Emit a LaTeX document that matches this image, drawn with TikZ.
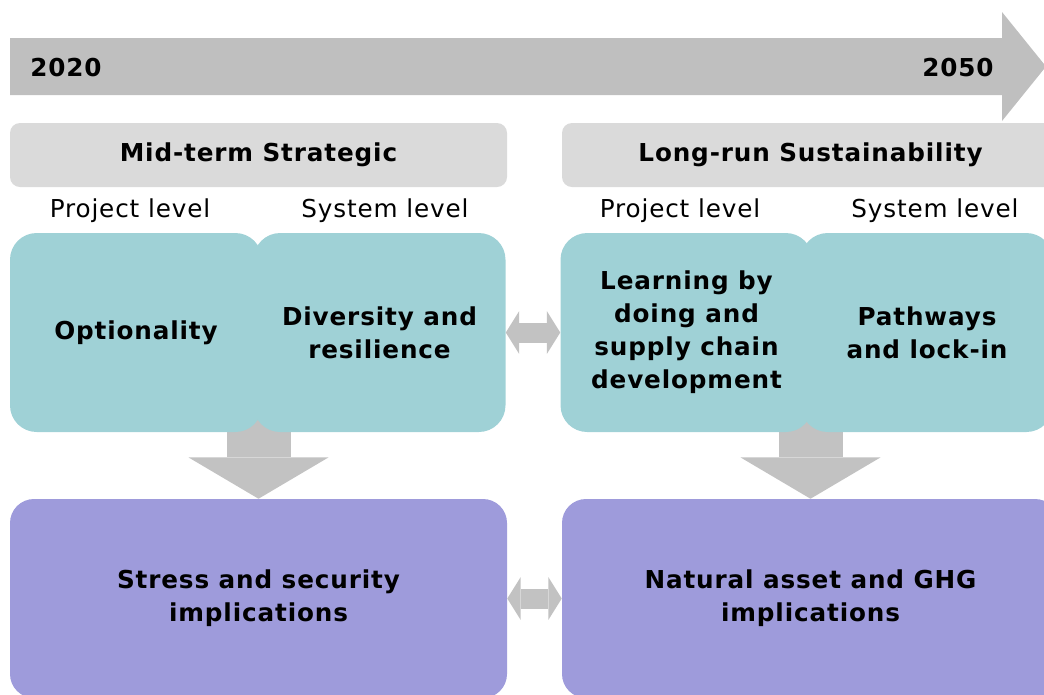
\documentclass[tikz,border=0pt]{standalone}
\usepackage{fontspec}
\setmainfont{DejaVu Sans}[LetterSpace=3.5]
\usetikzlibrary{arrows.meta,positioning,calc,backgrounds}

\definecolor{timegray}{RGB}{191,191,191}
\definecolor{headgray}{RGB}{218,218,218}
\definecolor{arrgray}{RGB}{194,194,194}
\definecolor{tealbox}{RGB}{159,209,214}
\definecolor{violetbox}{RGB}{158,155,219}

\tikzset{
  txt/.style={font=\fontsize{18.5}{24.75}\selectfont, align=center, inner sep=0pt},
  btxt/.style={txt, font=\fontsize{18.5}{24.75}\selectfont\bfseries},
  heading/.style={btxt, fill=headgray, rounded corners=7.5pt,
    minimum width=372.75pt, minimum height=48pt},
  factor/.style={btxt, fill=tealbox, rounded corners=20pt,
    minimum width=189pt, minimum height=149.25pt},
  impact/.style={btxt, fill=violetbox, rounded corners=18pt,
    minimum width=372.75pt, minimum height=149.25pt},
  linkarrow/.style={draw=arrgray, line width=15pt,
    {Triangle[width=32pt,length=10pt,line width=0pt]}-{Triangle[width=32pt,length=10pt,line width=0pt]}},
  downarrow/.style={draw=arrgray, line width=48pt,
    -{Triangle[width=105pt,length=31pt,line width=0pt]}},
}

\begin{document}
\begin{tikzpicture}[x=0.75pt,y=-0.75pt]
  \useasboundingbox (0,0) rectangle (1044,694);
  \clip (0,0) rectangle (1044,694);

  % time axis
  \fill[timegray] (10,38) -- (1002,38) -- (1002,12) -- (1046,66.5)
    -- (1002,121) -- (1002,95) -- (10,95) -- cycle;
  \node[btxt] (start) at (66,68) {2020};
  \node[btxt] (end)   at (958,68) {2050};

  % horizons
  \node[heading] (mid)  at (258.5,155) {Mid-term Strategic};
  \node[heading] (long) at (810.5,155) {Long-run Sustainability};

  \node[txt] (projA) at (130,211) {Project level};
  \node[txt] (sysA)  at (385,211) {System level};
  \node[txt] (projB) at (680,211) {Project level};
  \node[txt] (sysB)  at (935,211) {System level};

  % drivers
  \node[factor] (opt)   at (136,332.5)   {Optionality};
  \node[factor] (div)   at (379.5,332.5) {Diversity and\\resilience};
  \node[factor] (learn) at (686.5,332.5) {Learning by\\doing and\\supply chain\\development};
  \node[factor] (path)  at (927,332.5)   {Pathways\\and lock-in};

  % implications
  \node[impact] (stress)  at (258.5,598.5) {Stress and security\\implications};
  \node[impact] (natural) at (810.5,598.5) {Natural asset and GHG\\implications};

  \begin{scope}[on background layer]
    \draw[downarrow] ($(stress.north)+(0,-80)$) -- (stress.north);
    \draw[downarrow] ($(natural.north)+(0,-80)$) -- (natural.north);
  \end{scope}

  \draw[linkarrow] (div) -- (learn);
  \draw[linkarrow] (stress) -- (natural);

\end{tikzpicture}
\end{document}
